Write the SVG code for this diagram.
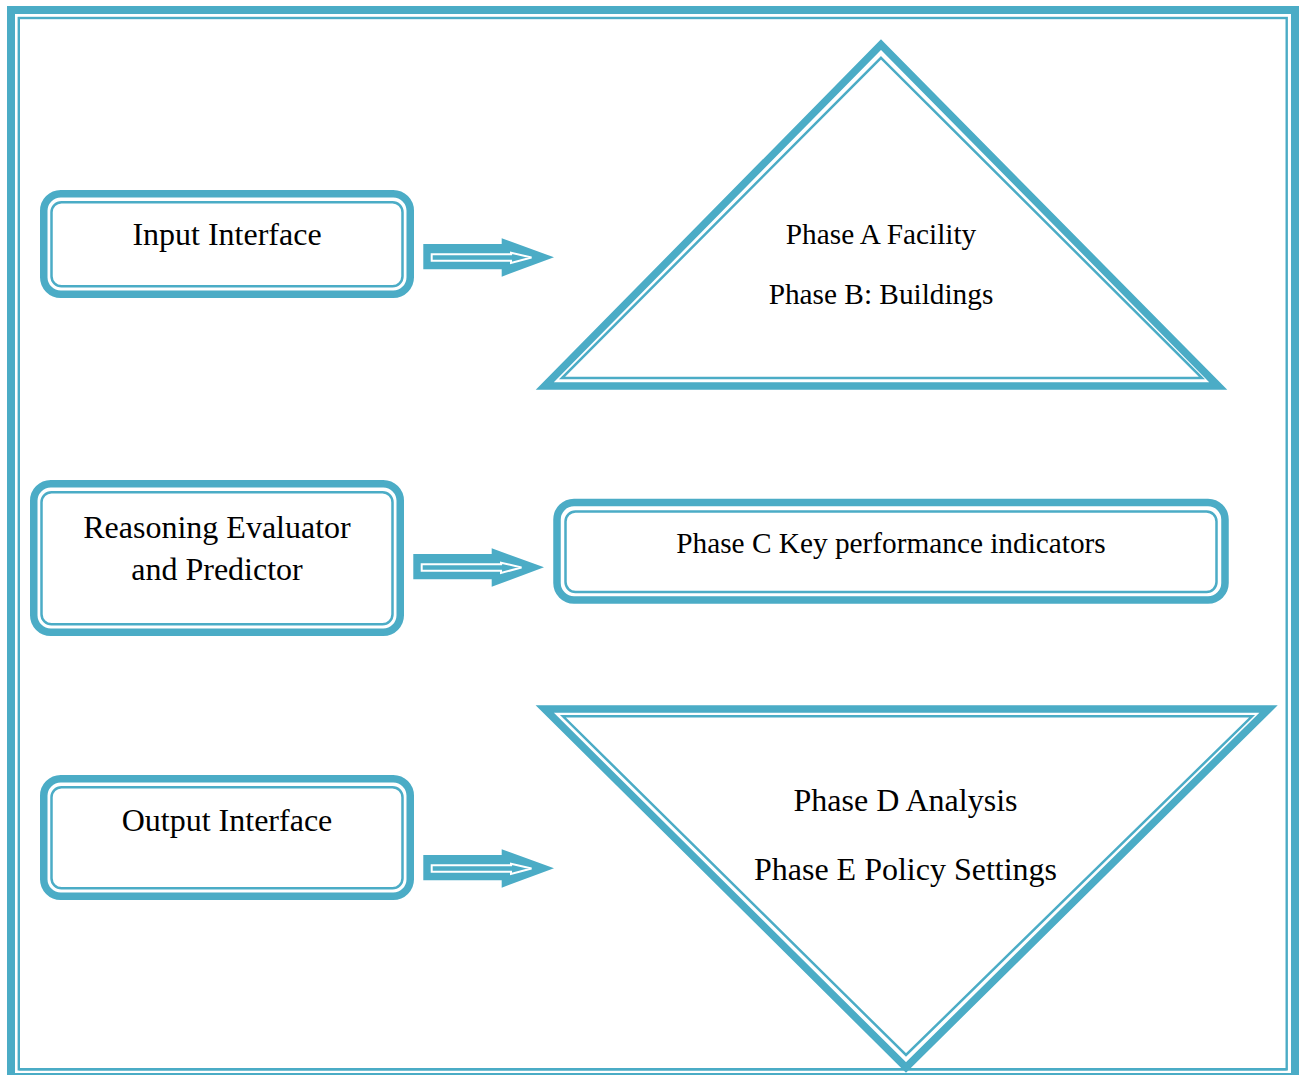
<svg xmlns="http://www.w3.org/2000/svg" width="1305" height="1075" viewBox="0 0 1305 1075">
  <style>
    .thick { fill: #ffffff; stroke: #4BACC6; stroke-width: 7.5; stroke-linejoin: miter; }
    .thin { fill: none; stroke: #4BACC6; stroke-width: 2.5; stroke-linejoin: miter; }
    .lbl { font-family: "Liberation Serif", "Times New Roman", serif; fill: #000000; text-anchor: middle; }
    .big { font-size: 32px; }
    .mid { font-size: 29.3px; }
  </style>
  <defs>
    <!-- block arrow with a white outlined inner arrow -->
    <g id="blockArrow">
      <polygon points="423.3,244 501.7,244 501.7,238.3 554,257.3 501.7,276.7 501.7,269.3 423.3,269.3" fill="#4BACC6"/>
      <polygon points="431.7,254.3 511,254.3 511,252.7 531.5,257.5 511,263 511,260.7 431.7,260.7" fill="#4BACC6" stroke="#ffffff" stroke-width="2"/>
    </g>
  </defs>

  <rect width="1305" height="1075" fill="#ffffff"/>

  <!-- page frame: thick outer line, thin inner line -->
  <g id="frame">
    <rect x="11" y="10" width="1284" height="1067" fill="none" stroke="#4BACC6" stroke-width="8"/>
    <rect x="18.8" y="18" width="1267.9" height="1051.3" fill="none" stroke="#4BACC6" stroke-width="2.4"/>
  </g>

  <g id="input-interface">
    <rect class="thick" x="43.75" y="193.75" width="366.5" height="100.5" rx="17" ry="17"/>
    <rect class="thin" x="51.5" y="202.2" width="351" height="84" rx="10" ry="10"/>
    <text class="lbl big" x="227" y="245">Input Interface</text>
  </g>

  <g id="reasoning-evaluator">
    <rect class="thick" x="33.75" y="483.75" width="366.5" height="148.5" rx="17" ry="17"/>
    <rect class="thin" x="41.5" y="492.2" width="351" height="132" rx="10" ry="10"/>
    <text class="lbl big" x="217" y="538">Reasoning Evaluator</text>
    <text class="lbl big" x="217" y="580">and Predictor</text>
  </g>

  <g id="output-interface">
    <rect class="thick" x="43.75" y="778.75" width="366.5" height="117.5" rx="17" ry="17"/>
    <rect class="thin" x="51.5" y="787.2" width="351" height="101" rx="10" ry="10"/>
    <text class="lbl big" x="227" y="831">Output Interface</text>
  </g>

  <g id="phase-a-b">
    <polygon class="thick" points="881,44.7 1218.3,386 544.7,386" stroke-width="8"/>
    <polygon class="thin" points="881,57.8 1202,378 562,378"/>
    <text class="lbl mid" x="881" y="243.5">Phase A Facility</text>
    <text class="lbl mid" x="881" y="303.5">Phase B: Buildings</text>
  </g>

  <g id="phase-c">
    <rect class="thick" x="557" y="502.5" width="668" height="97.5" rx="17" ry="17" stroke-width="8"/>
    <rect class="thin" x="565.5" y="511.5" width="651" height="80.5" rx="10" ry="10"/>
    <text class="lbl mid" x="891" y="553">Phase C Key performance indicators</text>
  </g>

  <g id="phase-d-e">
    <polygon class="thick" points="544.7,709 1268.6,709 906,1067.4" stroke-width="8"/>
    <polygon class="thin" points="563,716.3 1252,716.3 906,1055"/>
    <text class="lbl big" x="905.5" y="811">Phase D Analysis</text>
    <text class="lbl big" x="905.5" y="880">Phase E Policy Settings</text>
  </g>

  <g id="connectors">
    <use href="#blockArrow"/>
    <use href="#blockArrow" transform="translate(-10,310)"/>
    <use href="#blockArrow" transform="translate(0,611)"/>
  </g>

  <!-- thin frame line runs across the lower tip -->
  <line x1="18.8" y1="1069.3" x2="1286.7" y2="1069.3" stroke="#4BACC6" stroke-width="2.4"/>
</svg>
